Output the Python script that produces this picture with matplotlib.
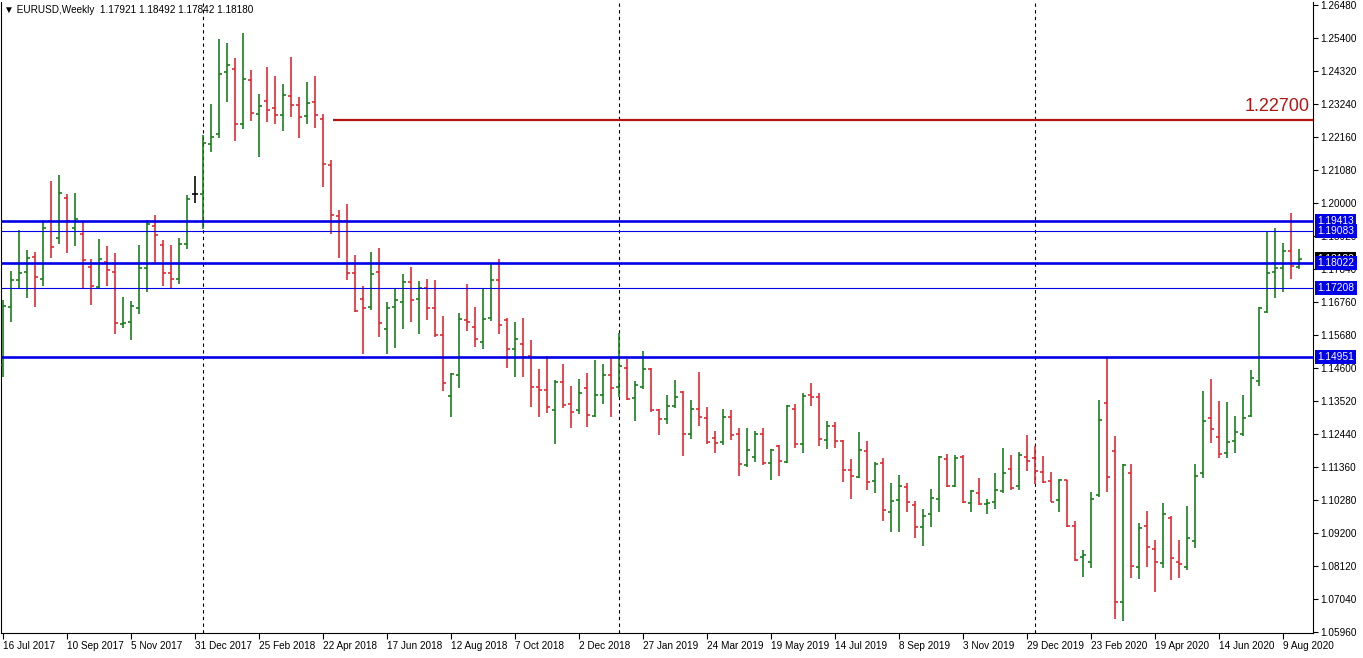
import matplotlib
matplotlib.use("Agg")
import matplotlib.pyplot as plt
from matplotlib.collections import LineCollection
import numpy as np

plt.rcParams['font.family'] = ['Liberation Sans', 'DejaVu Sans']

opens = [1.1470,1.1660,1.1748,1.1774,1.1823,1.1751,1.1941,1.1885,1.2017,1.1918,
         1.1898,1.1790,1.1725,1.1807,1.1774,1.1604,1.1611,1.1656,1.1787,1.1925,
         1.1862,1.1771,1.1750,1.1865,1.2030,1.2030,1.2193,1.2226,1.2429,1.2439,
         1.2257,1.2403,1.2291,1.2334,1.2311,1.2288,1.2350,1.2321,1.2285,1.2331,
         1.2275,1.2124,1.1958,1.1941,1.1771,1.1686,1.1660,1.1774,1.1588,1.1660,
         1.1676,1.1742,1.1686,1.1722,1.1657,1.1568,1.1368,1.1436,1.1617,1.1594,
         1.1545,1.1624,1.1748,1.1617,1.1523,1.1539,1.1500,1.1398,1.1388,1.1323,
         1.1414,1.1342,1.1323,1.1395,1.1303,1.1372,1.1437,1.1398,1.1460,1.1362,
         1.1398,1.1457,1.1323,1.1293,1.1336,1.1382,1.1244,1.1326,1.1297,1.1231,
         1.1218,1.1300,1.1244,1.1143,1.1169,1.1244,1.1150,1.1205,1.1153,1.1326,
         1.1211,1.1372,1.1365,1.1224,1.1270,1.1221,1.1126,1.1103,1.1189,1.1091,
         1.1149,1.0989,1.1028,1.1071,1.1012,1.0940,1.0982,1.1031,1.1162,1.1074,
         1.1169,1.1018,1.1051,1.1015,1.1021,1.1058,1.1130,1.1074,1.1169,1.1166,
         1.1120,1.1091,1.1028,1.1094,1.0943,1.0841,1.0825,1.1044,1.1345,1.1188,
         1.0694,1.1117,1.0809,1.0943,1.0868,1.0822,1.0969,1.0825,1.0809,1.0894,
         1.1117,1.1297,1.1234,1.1182,1.1221,1.1244,1.1303,1.1418,1.1643,1.1774,
         1.1787,1.1843,1.17921]
highs = [1.1683,1.1778,1.1912,1.1846,1.1840,1.1938,1.2072,1.2092,1.2030,1.2033,
         1.1941,1.1817,1.1882,1.1859,1.1836,1.1692,1.1679,1.1862,1.1944,1.1960,
         1.1879,1.1863,1.1885,1.2027,1.2088,1.2223,1.2324,1.2537,1.2524,1.2475,
         1.2556,1.2435,1.2357,1.2445,1.2416,1.2390,1.2478,1.2347,1.2396,1.2416,
         1.2291,1.2141,1.1977,1.1997,1.1830,1.1728,1.1840,1.1853,1.1677,1.1722,
         1.1768,1.1791,1.1745,1.1751,1.1748,1.1630,1.1442,1.1640,1.1735,1.1660,
         1.1722,1.1803,1.1817,1.1624,1.1611,1.1624,1.1552,1.1457,1.1500,1.1421,
         1.1473,1.1401,1.1424,1.1444,1.1486,1.1473,1.1496,1.1574,1.1490,1.1418,
         1.1516,1.1460,1.1326,1.1372,1.1421,1.1385,1.1355,1.1447,1.1332,1.1254,
         1.1326,1.1323,1.1264,1.1264,1.1254,1.1264,1.1195,1.1208,1.1339,1.1342,
         1.1378,1.1411,1.1378,1.1287,1.1283,1.1224,1.1162,1.1251,1.1221,1.1153,
         1.1166,1.1084,1.1110,1.1084,1.1025,1.0999,1.1064,1.1172,1.1179,1.1175,
         1.1175,1.1061,1.1100,1.1031,1.1116,1.1198,1.1175,1.1185,1.1241,1.1205,
         1.1172,1.1120,1.1097,1.1095,1.0959,1.0864,1.1054,1.1355,1.1496,1.1237,
         1.1146,1.1146,1.0953,1.0992,1.0897,1.1018,1.0976,1.0897,1.1008,1.1146,
         1.1385,1.1424,1.1352,1.1349,1.1303,1.1372,1.1453,1.1660,1.1908,1.1918,
         1.1869,1.1967,1.18492]
lows = [1.1431,1.1611,1.1722,1.1689,1.1660,1.1728,1.1820,1.1866,1.1836,1.1859,
        1.1718,1.1665,1.1718,1.1728,1.1571,1.1591,1.1552,1.1637,1.1709,1.1803,
        1.1728,1.1718,1.1735,1.1850,1.1999,1.1916,1.2167,1.2212,1.2331,1.2203,
        1.2241,1.2268,1.2151,1.2265,1.2258,1.2235,1.2281,1.2212,1.2258,1.2245,
        1.2052,1.1900,1.1820,1.1748,1.1643,1.1506,1.1650,1.1561,1.1506,1.1525,
        1.1588,1.1611,1.1571,1.1617,1.1561,1.1385,1.1300,1.1394,1.1581,1.1529,
        1.1522,1.1614,1.1571,1.1460,1.1431,1.1431,1.1332,1.1300,1.1313,1.1211,
        1.1329,1.1264,1.1309,1.1267,1.1300,1.1342,1.1300,1.1365,1.1355,1.1287,
        1.1391,1.1316,1.1241,1.1277,1.1329,1.1172,1.1228,1.1270,1.1211,1.1182,
        1.1208,1.1224,1.1106,1.1137,1.1153,1.1143,1.1094,1.1107,1.1150,1.1198,
        1.1182,1.1336,1.1205,1.1195,1.1198,1.1088,1.1031,1.1100,1.1061,1.1051,
        1.0959,1.0924,1.0924,1.0989,1.0904,1.0878,1.0940,1.0989,1.1071,1.1071,
        1.1018,1.0989,1.1012,1.0982,1.0998,1.1051,1.1061,1.1061,1.1123,1.1081,
        1.1084,1.1021,1.0989,1.0940,1.0828,1.0776,1.0806,1.1038,1.1054,1.0639,
        1.0632,1.0773,1.0770,1.0809,1.0727,1.0806,1.0766,1.0773,1.0799,1.0871,
        1.1100,1.1215,1.1166,1.1166,1.1182,1.1238,1.1300,1.1401,1.1640,1.1690,
        1.1709,1.1751,1.17842]
closes = [1.1663,1.1748,1.1771,1.1820,1.1758,1.1918,1.1856,1.2033,1.1941,1.1947,
          1.1813,1.1728,1.1817,1.1780,1.1607,1.1607,1.1663,1.1787,1.1931,1.1895,
          1.1771,1.1750,1.1865,1.2013,1.2030,1.2197,1.2216,1.2422,1.2452,1.2257,
          1.2406,1.2295,1.2317,1.2304,1.2288,1.2354,1.2321,1.2281,1.2327,1.2288,
          1.2128,1.1961,1.1941,1.1771,1.1647,1.1657,1.1768,1.1607,1.1657,1.1683,
          1.1742,1.1683,1.1722,1.1657,1.1568,1.1411,1.1439,1.1620,1.1611,1.1555,
          1.1620,1.1748,1.1601,1.1523,1.1555,1.1497,1.1398,1.1388,1.1332,1.1414,
          1.1339,1.1316,1.1378,1.1306,1.1372,1.1437,1.1395,1.1467,1.1359,1.1404,
          1.1457,1.1323,1.1293,1.1336,1.1365,1.1244,1.1326,1.1300,1.1218,1.1215,
          1.1300,1.1241,1.1146,1.1192,1.1244,1.1150,1.1192,1.1156,1.1336,1.1211,
          1.1369,1.1366,1.1228,1.1270,1.1221,1.1126,1.1107,1.1192,1.1087,1.1146,
          1.0995,1.1025,1.1074,1.1021,1.0940,1.0976,1.1035,1.1169,1.1074,1.1166,
          1.1021,1.1058,1.1015,1.1018,1.1061,1.1116,1.1067,1.1175,1.1156,1.1123,
          1.1087,1.1023,1.1094,1.0943,1.0831,1.0848,1.1031,1.1290,1.1103,1.0694,
          1.1143,1.0812,1.0936,1.0874,1.0825,1.0982,1.0838,1.0819,1.0904,1.1107,
          1.1287,1.1261,1.1179,1.1218,1.1251,1.1297,1.1427,1.1657,1.1771,1.1787,
          1.1843,1.1794,1.18180]

date_labels = ["16 Jul 2017", "10 Sep 2017", "5 Nov 2017", "31 Dec 2017", "25 Feb 2018",
               "22 Apr 2018", "17 Jun 2018", "12 Aug 2018", "7 Oct 2018", "2 Dec 2018",
               "27 Jan 2019", "24 Mar 2019", "19 May 2019", "14 Jul 2019", "8 Sep 2019",
               "3 Nov 2019", "29 Dec 2019", "23 Feb 2020", "19 Apr 2020", "14 Jun 2020",
               "9 Aug 2020"]
label_step = 8
year_starts = [25, 77, 129]

blue_levels = [1.19413, 1.19083, 1.18022, 1.17208, 1.14951]
blue_thick = [True, False, True, False, True]
target_level = 1.22700
target_start = 41.25
current_price = 1.18180
header = "\u25BC EURUSD,Weekly  1.17921 1.18492 1.17842 1.18180"

W, H = 1363, 658
fig = plt.figure(figsize=(W / 100, H / 100), dpi=100)
fig.patch.set_facecolor("white")
ax = fig.add_axes([1 / W, 1 - 633 / H, 1312 / W, 631 / H])
ax.set_facecolor("white")

GREEN = "#117a11"
RED = "#e0202a"
n = len(opens)
segs, cols = [], []
tick = 0.4
for i in range(n):
    o, h, l, c = opens[i], highs[i], lows[i], closes[i]
    col = GREEN if c > o else (RED if c < o else "black")
    segs += [[(i, l), (i, h)], [(i - tick, o), (i, o)], [(i, c), (i + tick, c)]]
    cols += [col] * 3
lc = LineCollection(segs, colors=cols, linewidths=1.15, capstyle="butt", zorder=3)
ax.add_collection(lc)

ax.set_xlim(-0.25, 163.75)
ax.set_ylim(1.05927, 1.26578)

for xv in year_starts:
    ax.axvline(xv, color="black", lw=0.8, ls=(0, (3, 3)), zorder=1)

for lvl, thick in zip(blue_levels, blue_thick):
    ax.axhline(lvl, color="#0000e6", lw=1.9 if thick else 0.8, zorder=4)

ax.plot([target_start, 163.75], [target_level, target_level], color="#b21515", lw=1.6,
        zorder=4, solid_capstyle="butt")
ax.text(163.35, target_level + 0.0017, f"{target_level:.5f}", color="#b21515", fontsize=13,
        ha="right", va="bottom", zorder=5)

ax.spines["top"].set_visible(False)
for s in ["left", "right", "bottom"]:
    ax.spines[s].set_color("black")
    ax.spines[s].set_linewidth(0.8)

yt = [round(1.0596 + 0.0108 * k, 5) for k in range(20)]
ax.yaxis.tick_right()
ax.set_yticks(yt)
ax.set_yticklabels([f"{v:.5f}" for v in yt])
ax.tick_params(axis="y", direction="out", length=3.5, width=0.8, pad=2, labelsize=7.2,
               colors="black")

xt = list(range(0, n, label_step))[:len(date_labels)]
ax.set_xticks(xt)
ax.set_xticklabels(date_labels, ha="left")
ax.tick_params(axis="x", direction="out", length=4, width=0.8, pad=2, labelsize=7.2)

def price_box(val, fc):
    ax.annotate(f"{val:.5f}", xy=(1.0, val), xycoords=("axes fraction", "data"),
                xytext=(3.2, 0), textcoords="offset points", color="white", fontsize=7.4,
                va="center", ha="left", zorder=10, annotation_clip=False,
                bbox=dict(boxstyle="square,pad=0.2", fc=fc, ec="none"))

price_box(current_price, "black")
for lvl in blue_levels:
    price_box(lvl, "#0000e6")

fig.text(4 / W, 1 - 10 / H, header, fontsize=7.2, va="center", ha="left",
         family=["Liberation Sans", "DejaVu Sans"])

fig.savefig("out.png", dpi=100, facecolor="white")
